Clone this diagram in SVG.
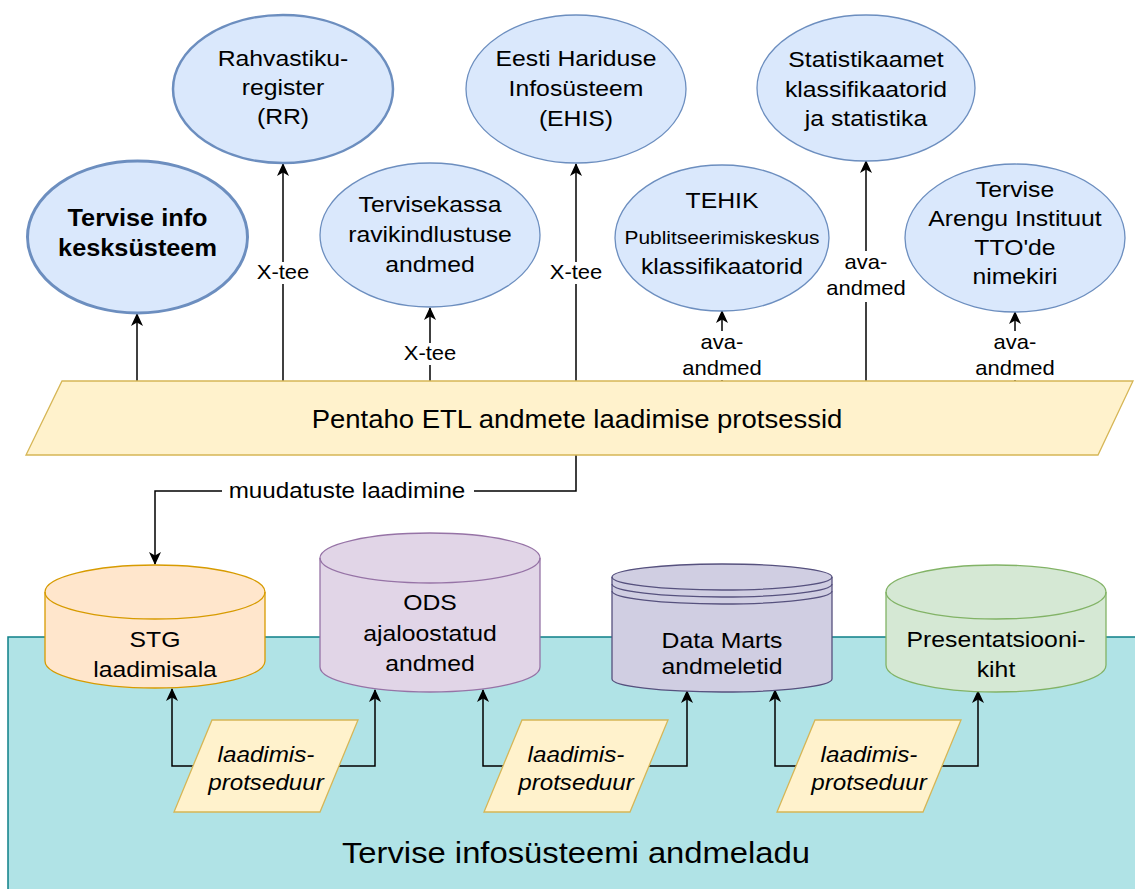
<svg xmlns="http://www.w3.org/2000/svg" width="1135" height="889" viewBox="0 0 1135 889">
<defs>
<marker id="arr" markerUnits="userSpaceOnUse" viewBox="0 0 13 12" refX="12" refY="6" markerWidth="13" markerHeight="12" orient="auto">
<path d="M0,0 L13,6 L0,12 L3.5,6 Z" fill="#000"/>
</marker>
<style>
.t{font-family:"Liberation Sans",Arial,sans-serif;text-anchor:middle;fill:#000;}
.n{font-size:22.5px;}
.b{font-size:23px;font-weight:bold;}
.s{font-size:19px;}
.l{font-size:20px;}
.i{font-size:22px;font-style:italic;}
.ell{fill:#dae8fc;stroke:#6c8ebf;stroke-width:1.3;}
.yel{fill:#fff2cc;stroke:#d6b656;stroke-width:1.3;}
.c{fill:none;stroke:#000;stroke-width:1.5;marker-end:url(#arr);}
.bg{fill:#fff;}
</style>
</defs>
<rect width="1135" height="889" fill="#fff"/>

<g id="container">
<rect x="8" y="637" width="1140" height="260" fill="#b0e3e6" stroke="#0e8088" stroke-width="1.5"/>
<text class="t" style="font-size:29.8px" transform="translate(576 0) scale(1.1 1)" x="0" y="863">Tervise infosüsteemi andmeladu</text>
</g>

<g id="connectors">
<line class="c" x1="137" y1="381" x2="137" y2="314"/>
<line class="c" x1="283" y1="381" x2="283" y2="164"/>
<line class="c" x1="430" y1="381" x2="430" y2="308"/>
<line class="c" x1="576" y1="381" x2="576" y2="164"/>
<line class="c" x1="722" y1="381" x2="722" y2="311"/>
<line class="c" x1="866" y1="381" x2="866" y2="161"/>
<line class="c" x1="1015" y1="381" x2="1015" y2="312"/>
<path class="c" d="M576,455 L576,491 L155,491 L155,564"/>
<path class="c" d="M193,766 L172,766 L172,689"/>
<path class="c" d="M339,766 L375,766 L375,690"/>
<path class="c" d="M503,766 L483,766 L483,690"/>
<path class="c" d="M649,766 L687,766 L687,691"/>
<path class="c" d="M796,766 L775,766 L775,690"/>
<path class="c" d="M942,766 L978,766 L978,691"/>
<rect class="bg" x="255" y="262" width="56" height="22"/>
<text class="t l" transform="translate(283 0) scale(1.1 1)" x="0" y="279">X-tee</text>
<rect class="bg" x="548" y="262" width="56" height="22"/>
<text class="t l" transform="translate(576 0) scale(1.1 1)" x="0" y="279">X-tee</text>
<rect class="bg" x="402" y="343" width="56" height="22"/>
<text class="t l" transform="translate(430 0) scale(1.1 1)" x="0" y="360">X-tee</text>
<rect class="bg" x="824" y="251" width="84" height="51"/>
<text class="t l" transform="translate(866 0) scale(1.1 1)"><tspan x="0" y="269">ava-</tspan><tspan x="0" y="295">andmed</tspan></text>
<rect class="bg" x="680" y="331" width="84" height="49"/>
<text class="t l" transform="translate(722 0) scale(1.1 1)"><tspan x="0" y="349">ava-</tspan><tspan x="0" y="375">andmed</tspan></text>
<rect class="bg" x="973" y="331" width="84" height="49"/>
<text class="t l" transform="translate(1015 0) scale(1.1 1)"><tspan x="0" y="349">ava-</tspan><tspan x="0" y="375">andmed</tspan></text>
<rect class="bg" x="222" y="481" width="252" height="21"/>
<text class="t" style="font-size:22px" transform="translate(347 0) scale(1.1 1)" x="0" y="498">muudatuste laadimine</text>
</g>

<g id="tik">
<ellipse class="ell" cx="137.5" cy="237" rx="110" ry="76" style="stroke-width:3"/>
<text class="t b" transform="translate(137.5 0) scale(1.1 1)"><tspan x="0" y="226">Tervise info</tspan><tspan x="0" y="256">kesksüsteem</tspan></text>
</g>

<g id="rr">
<ellipse class="ell" cx="283" cy="89" rx="110" ry="74" style="stroke-width:2.5"/>
<text class="t n" transform="translate(283 0) scale(1.1 1)"><tspan x="0" y="66">Rahvastiku-</tspan><tspan x="0" y="95">register</tspan><tspan x="0" y="124">(RR)</tspan></text>
</g>

<g id="tervisekassa">
<ellipse class="ell" cx="430" cy="235" rx="110" ry="72"/>
<text class="t n" transform="translate(430 0) scale(1.1 1)"><tspan x="0" y="212">Tervisekassa</tspan><tspan x="0" y="242">ravikindlustuse</tspan><tspan x="0" y="272">andmed</tspan></text>
</g>

<g id="ehis">
<ellipse class="ell" cx="576" cy="89" rx="110" ry="74"/>
<text class="t n" transform="translate(576 0) scale(1.1 1)"><tspan x="0" y="66">Eesti Hariduse</tspan><tspan x="0" y="96">Infosüsteem</tspan><tspan x="0" y="126">(EHIS)</tspan></text>
</g>

<g id="tehik">
<ellipse class="ell" cx="722" cy="238" rx="107" ry="73"/>
<text class="t n" transform="translate(722 0) scale(1.1 1)"><tspan x="0" y="208">TEHIK</tspan><tspan x="0" y="244" style="font-size:19px">Publitseerimiskeskus</tspan><tspan x="0" y="274">klassifikaatorid</tspan></text>
</g>

<g id="statistikaamet">
<ellipse class="ell" cx="866" cy="88" rx="109" ry="73"/>
<text class="t n" transform="translate(866 0) scale(1.1 1)"><tspan x="0" y="67">Statistikaamet</tspan><tspan x="0" y="97">klassifikaatorid</tspan><tspan x="0" y="126">ja statistika</tspan></text>
</g>

<g id="tai">
<ellipse class="ell" cx="1015" cy="238" rx="110" ry="74"/>
<text class="t n" transform="translate(1015 0) scale(1.1 1)"><tspan x="0" y="197">Tervise</tspan><tspan x="0" y="226">Arengu Instituut</tspan><tspan x="0" y="255">TTO'de</tspan><tspan x="0" y="284">nimekiri</tspan></text>
</g>

<g id="pentaho">
<polygon class="yel" points="62,381 1133,381 1098,455 26,455"/>
<text class="t" style="font-size:25px" transform="translate(577 0) scale(1.1 1)" x="0" y="428">Pentaho ETL andmete laadimise protsessid</text>
</g>

<g id="stg">
<path d="M45,592 A110,27 0 0 1 265,592 L265,661 A110,27 0 0 1 45,661 Z" fill="#ffe6cc" stroke="#d79b00" stroke-width="1.3"/>
<path d="M45,592 A110,27 0 0 0 265,592" fill="none" stroke="#d79b00" stroke-width="1.3"/>
<text class="t n" transform="translate(155 0) scale(1.1 1)"><tspan x="0" y="647">STG</tspan><tspan x="0" y="677">laadimisala</tspan></text>
</g>

<g id="ods">
<path d="M320,558 A110,25 0 0 1 540,558 L540,667 A110,25 0 0 1 320,667 Z" fill="#e1d5e7" stroke="#9673a6" stroke-width="1.3"/>
<path d="M320,558 A110,25 0 0 0 540,558" fill="none" stroke="#9673a6" stroke-width="1.3"/>
<text class="t n" transform="translate(430 0) scale(1.1 1)"><tspan x="0" y="610">ODS</tspan><tspan x="0" y="641">ajaloostatud</tspan><tspan x="0" y="671">andmed</tspan></text>
</g>

<g id="datamarts">
<path d="M612,577 A110,13 0 0 1 832,577 L832,679 A110,13 0 0 1 612,679 Z" fill="#d0cee2" stroke="#56517e" stroke-width="1.3"/>
<path d="M612,577 A110,13 0 0 0 832,577 M612,584 A110,13 0 0 0 832,584 M612,591 A110,13 0 0 0 832,591" fill="none" stroke="#56517e" stroke-width="1.3"/>
<text class="t n" transform="translate(722 0) scale(1.1 1)"><tspan x="0" y="648">Data Marts</tspan><tspan x="0" y="674">andmeletid</tspan></text>
</g>

<g id="presentatsioon">
<path d="M886,592 A110,27 0 0 1 1106,592 L1106,665 A110,27 0 0 1 886,665 Z" fill="#d5e8d4" stroke="#82b366" stroke-width="1.3"/>
<path d="M886,592 A110,27 0 0 0 1106,592" fill="none" stroke="#82b366" stroke-width="1.3"/>
<text class="t n" transform="translate(996 0) scale(1.1 1)"><tspan x="0" y="647">Presentatsiooni-</tspan><tspan x="0" y="677">kiht</tspan></text>
</g>

<g id="proc1">
<polygon class="yel" points="212,720 358,720 320,812 174,812"/>
<text class="t i" transform="translate(266 0) scale(1.1 1)"><tspan x="0" y="762">laadimis-</tspan><tspan x="0" y="790">protseduur</tspan></text>
</g>
<g id="proc2">
<polygon class="yel" points="522,720 668,720 630,812 484,812"/>
<text class="t i" transform="translate(576 0) scale(1.1 1)"><tspan x="0" y="762">laadimis-</tspan><tspan x="0" y="790">protseduur</tspan></text>
</g>
<g id="proc3">
<polygon class="yel" points="815,720 961,720 923,812 777,812"/>
<text class="t i" transform="translate(869 0) scale(1.1 1)"><tspan x="0" y="762">laadimis-</tspan><tspan x="0" y="790">protseduur</tspan></text>
</g>
</svg>
